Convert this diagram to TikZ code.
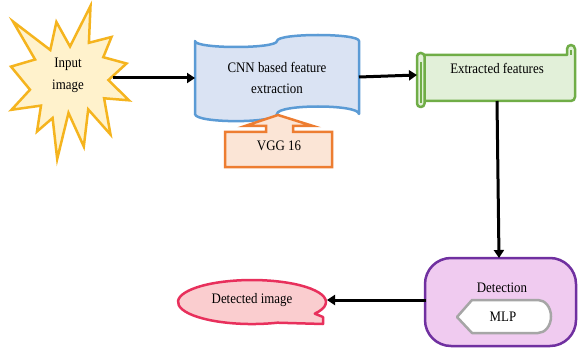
\documentclass[tikz,border=0pt]{standalone}
\usepackage{fontspec}
\setmainfont{Liberation Serif}[FakeStretch=0.89]
\usetikzlibrary{arrows.meta}
\definecolor{starfill}{HTML}{FFF2CC}
\definecolor{stardraw}{HTML}{F5B41E}
\definecolor{cnnfill}{HTML}{DAE3F3}
\definecolor{cnndraw}{HTML}{5B9BD5}
\definecolor{vggfill}{HTML}{FBE5D6}
\definecolor{vggdraw}{HTML}{ED7D31}
\definecolor{extfill}{HTML}{E2F0D9}
\definecolor{extdraw}{HTML}{70AD47}
\definecolor{detfill}{HTML}{F0CBF0}
\definecolor{detdraw}{HTML}{7030A0}
\definecolor{mlpdraw}{HTML}{A6A6A6}
\definecolor{outfill}{HTML}{FACDCF}
\definecolor{outdraw}{HTML}{E8305C}
\begin{document}
\begin{tikzpicture}[x=1pt,y=-1pt,
  shapeline/.style={line width=2.5pt, line join=round},
  lbl/.style={inner sep=0pt, font=\fontsize{14.5}{21.5}\selectfont, align=center},
  flow/.style={line width=3pt, -{Triangle[length=8pt,width=10pt]}},
]
\fill[white] (0,0) rectangle (578,350);
\useasboundingbox (0,0) rectangle (578,350);

% Input image (explosion star)
\path[shapeline, line join=miter, miter limit=6, draw=stardraw, fill=starfill]
 (70.0,46.5) -- (90.5,6) -- (88.9,42.8) -- (111.5,37) -- (103.3,57.2) -- (126.5,63.5)
 -- (108.4,80.1) -- (129,100.3) -- (104.1,98.3) -- (110.5,134.5) -- (88.2,109.4)
 -- (83.8,146.5) -- (68.5,112.9) -- (57.2,159) -- (52.6,118.0) -- (37,131.5)
 -- (41.0,105.6) -- (11.5,109.8) -- (30.0,89.7) -- (11,66.6) -- (35.1,59.5)
 -- (13,21.5) -- (50.3,50) -- (56.4,22) -- cycle;
\node[lbl] (inputtxt) at (68,75.3) {Input\\image};

% CNN based feature extraction (punched tape)
\path[shapeline, draw=cnndraw, fill=cnnfill]
 (195,41) .. controls (195,49) and (277,49) .. (277,41)
 .. controls (277,33) and (359,33) .. (359,41) -- (359,114)
 .. controls (359,104) and (277,104) .. (277,114)
 .. controls (277,123.5) and (195,123.5) .. (195,114) -- cycle;
\node[lbl] (cnntxt) at (277,78.2) {CNN based feature\\extraction};

% VGG 16 (up arrow callout)
\path[shapeline, line join=miter, draw=vggdraw, fill=vggfill]
 (225,132) -- (266,132) -- (266,126) -- (245,126) -- (278,115) -- (313,126)
 -- (293,126) -- (293,132) -- (332,132) -- (332,167) -- (225,167) -- cycle;
\node[lbl, anchor=base] (vggtxt) at (279,150.7) {VGG 16};

% Extracted features (horizontal scroll)
\path[shapeline, draw=extdraw, fill=extfill]
 (424,55) -- (567,55) -- (567,49) arc[start angle=180, end angle=360, radius=4]
 -- (575,97) arc[start angle=0, end angle=90, radius=4] -- (424,101) -- cycle;
\draw[line width=1.2pt, draw=extdraw] (571,55) -- (571,50);
\path[shapeline, draw=extdraw, fill=extfill, rounded corners=3.5pt]
 (417,53) rectangle (424.5,107);
\draw[line width=1.6pt, draw=extdraw] (421,62) -- (421,103);
\node[lbl, anchor=base] (exttxt) at (497,74) {Extracted features};

% Detection
\path[shapeline, draw=detdraw, fill=detfill, rounded corners=26pt]
 (425,258) rectangle (576,346);
\node[lbl, anchor=base] (dettxt) at (502,292.7) {Detection};

% MLP (display shape)
\path[shapeline, draw=mlpdraw, fill=white]
 (457,317) -- (472,300) -- (538,300)
 arc[start angle=-90, end angle=90, x radius=13, y radius=16.5]
 -- (472,333) -- cycle;
\node[lbl, anchor=base] (mlptxt) at (503,321.5) {MLP};

% Detected image (oval callout)
\path[shapeline, draw=outdraw, fill=outfill]
 (314.8,313.7) -- (323,317) -- (323,324) -- (277.3,322.7)
 arc[start angle=70, end angle=392, x radius=74, y radius=22] -- cycle;
\node[lbl, anchor=base] (outtxt) at (252,303) {Detected image};

% connectors
\coordinate (inR) at (113,78);
\coordinate (cnnL) at (195,78);
\coordinate (cnnR) at (359,77);
\coordinate (extL) at (417,75);
\coordinate (extB) at (497,101);
\coordinate (detT) at (499,258);
\coordinate (detL) at (426,300);
\coordinate (outR) at (327,300);
\draw[flow] (inR) -- (cnnL);
\draw[flow] (cnnR) -- (extL);
\draw[flow] (extB) -- (detT);
\draw[flow] (detL) -- (outR);
\end{tikzpicture}
\end{document}
